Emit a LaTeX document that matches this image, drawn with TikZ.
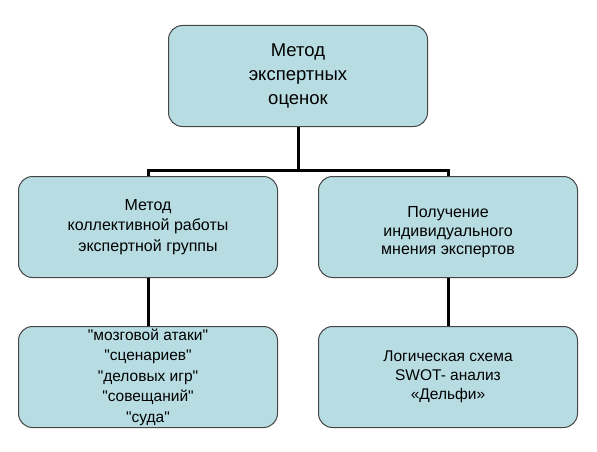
\documentclass[tikz,border=0pt]{standalone}
\usepackage{fontspec}
\setmainfont{Liberation Sans}[Ligatures=TeXOff]
\usepackage{tikz}
\usetikzlibrary{positioning,calc}
\definecolor{boxclr}{RGB}{183,221,227}
\definecolor{edgeclr}{RGB}{70,70,70}

\begin{document}
\begin{tikzpicture}[x=1pt,y=1pt,
    blk/.style={rectangle, rounded corners=14pt, draw=edgeclr, line width=1pt,
          fill=boxclr, minimum width=259pt, minimum height=101pt,
          align=center, inner sep=0pt},
    link/.style={line width=3pt, black}]
    \useasboundingbox (0,0) rectangle (597,-452);
    \node[blk, font=\fontsize{18.5}{24}\selectfont] (M) at (298,-76)
          {Метод\\экспертных\\оценок};
    \node[blk, font=\fontsize{16}{20.5}\selectfont] (K) at (148,-227)
          {Метод\\коллективной работы\\экспертной группы};
    \node[blk, font=\fontsize{16}{18.5}\selectfont] (I) at (448,-227)
          {\strut\\[-10pt]Получение\\индивидуального\\мнения экспертов};
    \node[blk, font=\fontsize{15.5}{20.5}\selectfont] (KL) at (148,-377)
          {"мозговой атаки"\\"сценариев"\\"деловых игр"\\"совещаний"\\"суда"};
    \node[blk, font=\fontsize{15.5}{19}\selectfont] (IL) at (448,-377)
          {Логическая схема\\SWOT- анализ\\«Дельфи»};
    % connectors
    \coordinate (J) at (M.south |- 0,-170);
    \draw[link] (M.south) -- (J);
    \draw[link] (K.north) |- (J) -| (I.north);
    \draw[link] (K.south) -- (KL.north);
    \draw[link] (I.south) -- (IL.north);
  \end{tikzpicture}
\end{document}
